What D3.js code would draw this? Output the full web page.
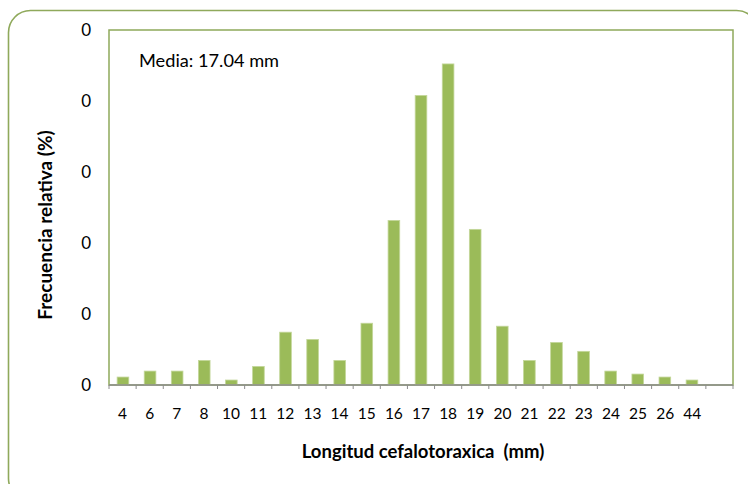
<!DOCTYPE html>
<html>
<head>
<meta charset="utf-8">
<script src="https://cdn.jsdelivr.net/npm/d3@7"></script>
<style>
  body { margin: 0; background: #fff; }
  svg { display: block; font-family: Lato, "Open Sans", sans-serif; }
  .bar { fill: #9bbb59; stroke: #c4d79b; stroke-width: 0.8; }
  .xaxis line { stroke: #8c8c8c; }
  .xaxis text { font-size: 15.5px; fill: #000; }
  .ylab { font-size: 17px; fill: #000; }
</style>
</head>
<body>
<div id="chart"></div>
<script>
var w = 748;
var h = 484;

// categories (mm) and relative frequencies
var categories = ["4", "6", "7", "8", "10", "11", "12", "13", "14", "15", "16", "17",
                  "18", "19", "20", "21", "22", "23", "24", "25", "26", "44", ""];
var values = [0.0056, 0.0098, 0.0098, 0.0173, 0.0035, 0.0131, 0.0372, 0.0321, 0.0173,
              0.0435, 0.1159, 0.2039, 0.2261, 0.1096, 0.0414, 0.0173, 0.0300, 0.0237,
              0.0098, 0.0077, 0.0056, 0.0035, 0];
var yTicks = [0, 0.05, 0.1, 0.15, 0.2, 0.25];

var plotLeft = 109, plotRight = 733, plotTop = 30, plotBottom = 385;

var svg = d3.select("#chart").append("svg")
    .attr("width", w)
    .attr("height", h);

// outer rounded frame
svg.append("rect")
    .attr("x", 8.5).attr("y", 10.5)
    .attr("width", 750).attr("height", 490)
    .attr("rx", 22).attr("ry", 22)
    .attr("fill", "none")
    .attr("stroke", "#8fa95b")
    .attr("stroke-width", 1.6);

var xScale = d3.scaleBand()
    .domain(d3.range(categories.length))
    .range([plotLeft, plotRight])
    .paddingInner(0.57)
    .paddingOuter(0.3);

var yScale = d3.scaleLinear()
    .domain([0, 0.25])
    .range([plotBottom, plotTop]);

// plot area border
svg.append("rect")
    .attr("x", plotLeft).attr("y", plotTop)
    .attr("width", plotRight - plotLeft).attr("height", plotBottom - plotTop)
    .attr("fill", "none")
    .attr("stroke", "#8fa95b")
    .attr("stroke-width", 1.5);

svg.selectAll(".bar")
    .data(values)
    .enter().append("rect")
    .attr("class", "bar")
    .attr("x", function(d, i) { return xScale(i); })
    .attr("width", xScale.bandwidth())
    .attr("y", function(d) { return yScale(d); })
    .attr("height", function(d) { return plotBottom - yScale(d); });

// x axis: ticks on category boundaries
var step = (plotRight - plotLeft) / categories.length;
var xAxisG = svg.append("g").attr("class", "xaxis");
xAxisG.append("line")
    .attr("x1", plotLeft).attr("x2", plotRight)
    .attr("y1", plotBottom).attr("y2", plotBottom)
    .attr("stroke-width", 1.5);
xAxisG.selectAll(".tick")
    .data(d3.range(categories.length + 1))
    .enter().append("line")
    .attr("x1", function(i) { return plotLeft + i * step; })
    .attr("x2", function(i) { return plotLeft + i * step; })
    .attr("y1", plotBottom).attr("y2", plotBottom + 4);
xAxisG.selectAll("text")
    .data(categories)
    .enter().append("text")
    .attr("x", function(d, i) { return plotLeft + (i + 0.5) * step; })
    .attr("y", 419)
    .attr("text-anchor", "middle")
    .text(function(d) { return d; });

// y labels (all shown as "0" like the original)
svg.selectAll(".ylab")
    .data(yTicks)
    .enter().append("text")
    .attr("class", "ylab")
    .attr("x", 91)
    .attr("y", function(d) { return yScale(d) + 6; })
    .attr("text-anchor", "end")
    .text(function(d) { return d3.format(".0f")(d); });

svg.append("text")
    .attr("x", 139).attr("y", 67)
    .attr("font-size", "18.2px")
    .text("Media: 17.04 mm");

svg.append("text")
    .attr("x", 423).attr("y", 458)
    .attr("text-anchor", "middle")
    .attr("font-size", "18.5px")
    .attr("font-weight", "bold")
    .attr("xml:space", "preserve")
    .text("Longitud cefalotoraxica  (mm)");

svg.append("text")
    .attr("transform", "translate(52, 225) rotate(-90)")
    .attr("text-anchor", "middle")
    .attr("font-size", "19px")
    .attr("font-weight", "bold")
    .text("Frecuencia relativa (%)");
</script>
</body>
</html>
